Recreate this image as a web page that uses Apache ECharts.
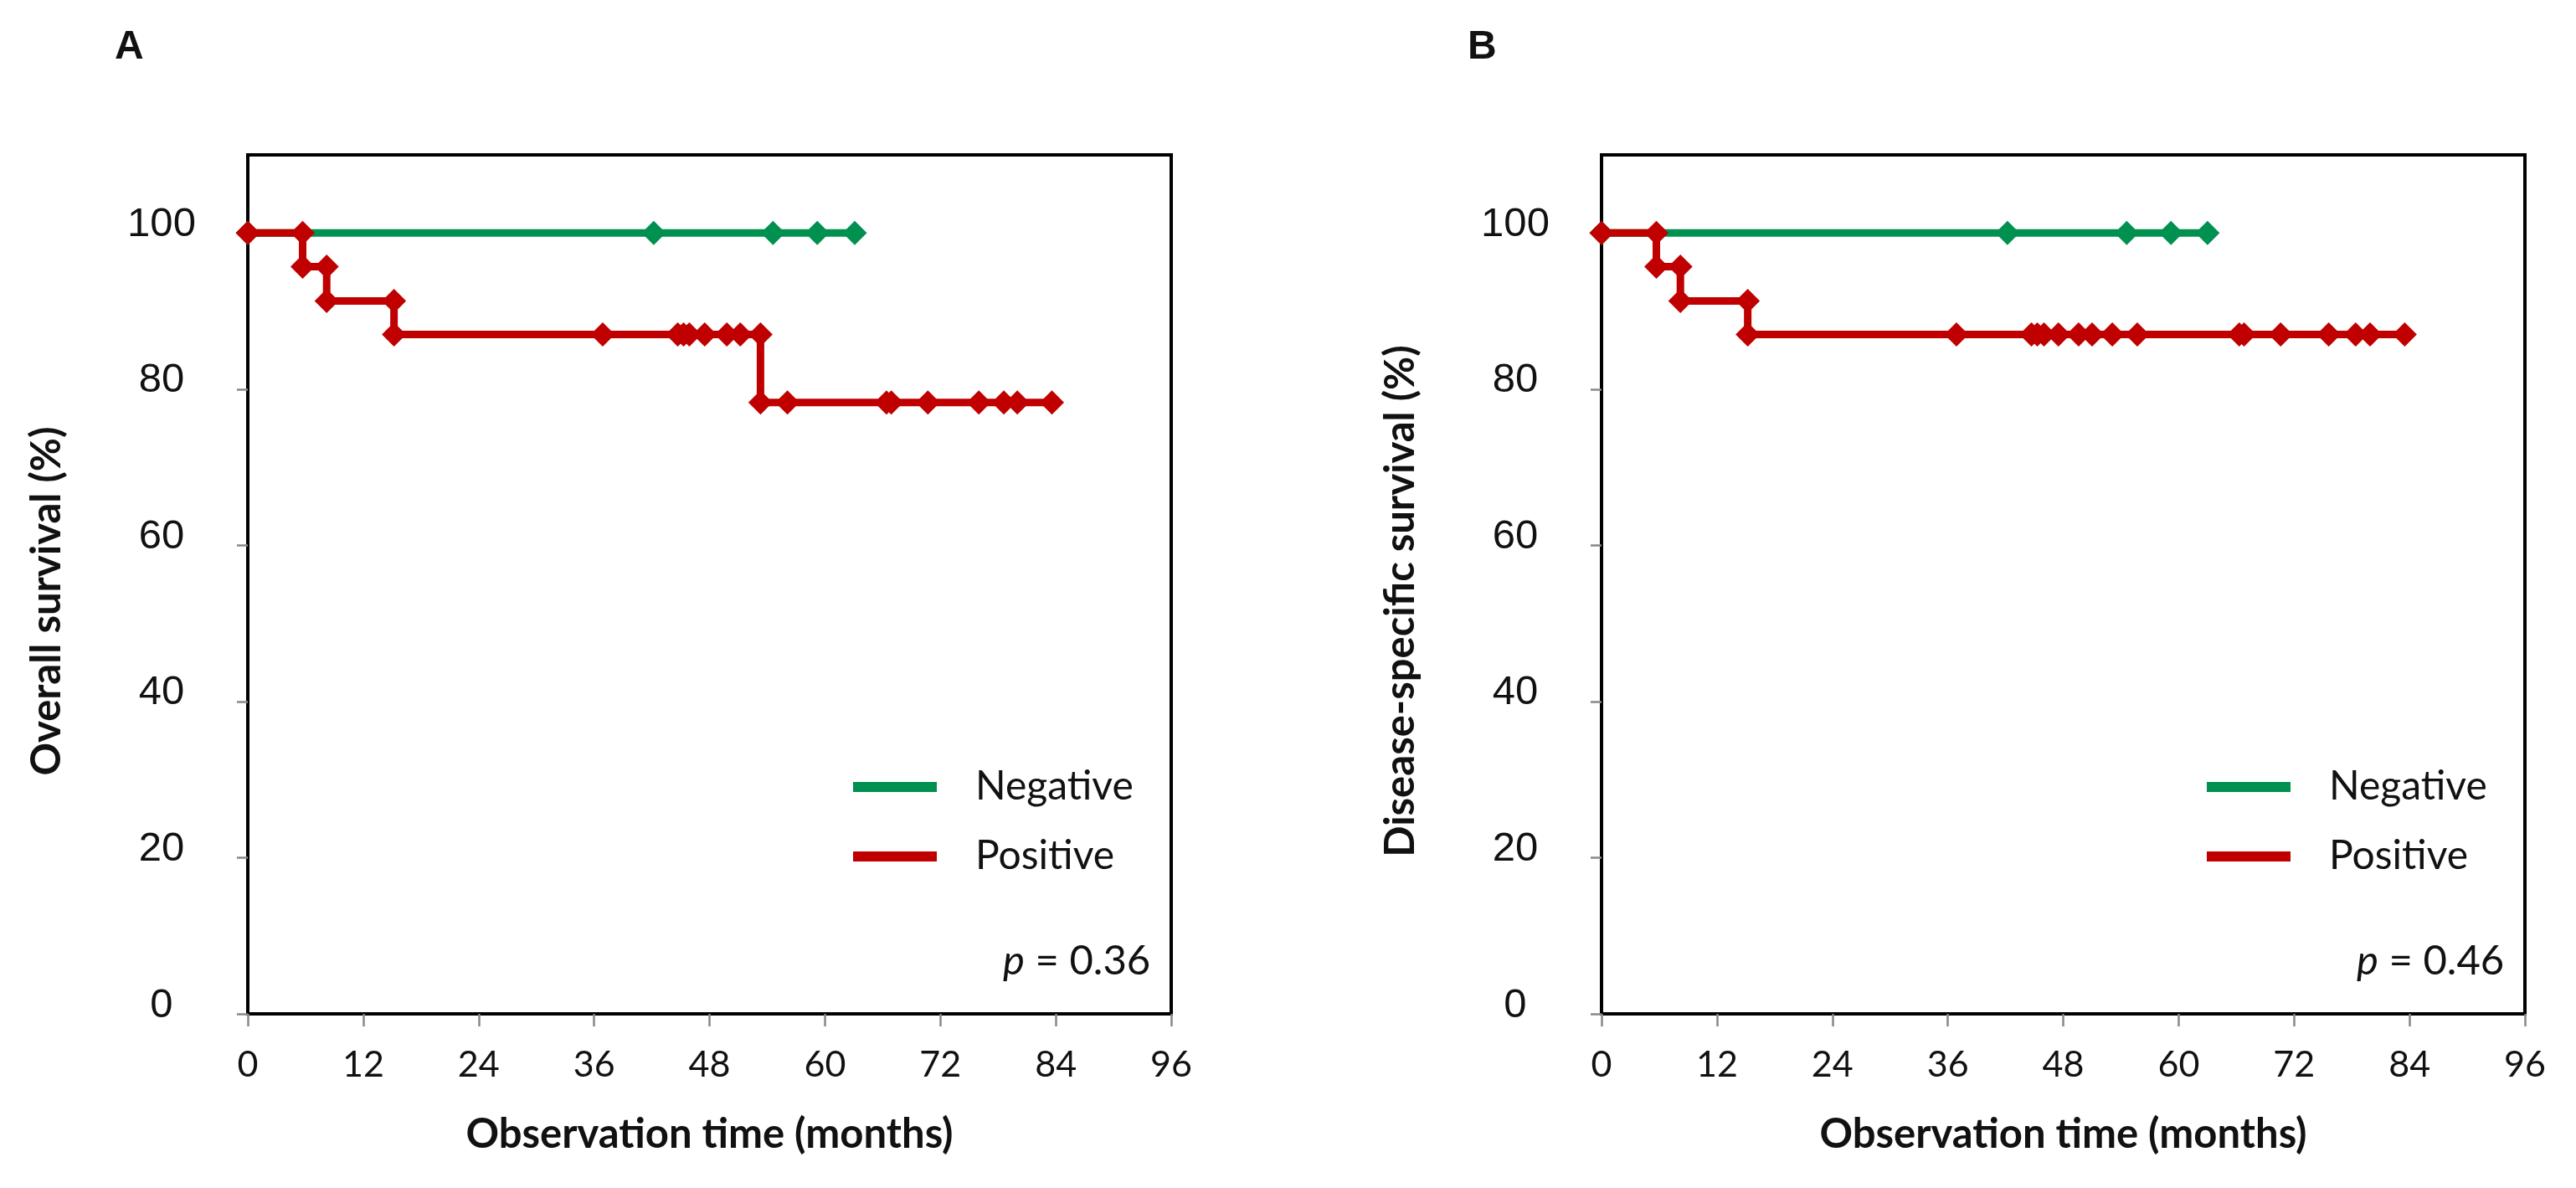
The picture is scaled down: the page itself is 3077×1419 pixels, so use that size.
<!DOCTYPE html>
<html><head><meta charset="utf-8">
<script src="https://cdn.jsdelivr.net/npm/echarts@6/dist/echarts.min.js"></script>
<style>html,body{margin:0;padding:0;background:#fff}#c{width:3077px;height:1419px}</style>
</head><body><div id="c"></div>
<script>
// ---- data ----
const groups = ['Negative', 'Positive'];
const panelLabels = ['A', 'B'];
const yTitles = ['Overall survival (%)', 'Disease-specific survival (%)'];
const xTitle = 'Observation time (months)';
const pValues = ['0.36', '0.46'];
const yTickValues = [0, 20, 40, 60, 80, 100];

// Panel A (overall survival)
const negTimesA = [0, 42.2, 54.6, 59.2, 63.1];
const negSurvA  = [100, 100, 100, 100, 100];
const posTimesA = [0, 5.7, 5.7, 8.2, 8.2, 15.2, 15.2, 36.9, 44.7, 45.3, 45.9, 47.5, 49.8, 51.2, 53.3, 53.3, 56.1, 66.4, 66.9, 70.7, 76.0, 78.6, 80.0, 83.6];
const posSurvA  = [100, 100, 95.7, 95.7, 91.3, 91.3, 87.0, 87.0, 87.0, 87.0, 87.0, 87.0, 87.0, 87.0, 87.0, 78.3, 78.3, 78.3, 78.3, 78.3, 78.3, 78.3, 78.3, 78.3];

// Panel B (disease-specific survival)
const negTimesB = [0, 42.2, 54.6, 59.2, 63.0];
const negSurvB  = [100, 100, 100, 100, 100];
const posTimesB = [0, 5.7, 5.7, 8.2, 8.2, 15.2, 15.2, 36.9, 44.7, 45.3, 46.0, 47.5, 49.6, 51.0, 53.1, 55.7, 66.3, 66.8, 70.6, 75.6, 78.4, 79.9, 83.5];
const posSurvB  = [100, 100, 95.7, 95.7, 91.3, 91.3, 87.0, 87.0, 87.0, 87.0, 87.0, 87.0, 87.0, 87.0, 87.0, 87.0, 87.0, 87.0, 87.0, 87.0, 87.0, 87.0, 87.0];

// ---- chart ----
const GREEN = '#00904F', RED = '#C00000', TXT = '#111';
const zip = (t, s) => t.map((v, i) => [v, s[i]]);
const panels = [
  { left: 296, neg: zip(negTimesA, negSurvA), pos: zip(posTimesA, posSurvA) },
  { left: 1913, neg: zip(negTimesB, negSurvB), pos: zip(posTimesB, posSurvB) }
];
const W = 1103, TOP = 185, H = 1026;

const option = {
  animation: false,
  backgroundColor: '#fff',
  grid: panels.map(p => ({ left: p.left, top: TOP, width: W, height: H, show: true, borderColor: '#000', borderWidth: 4, backgroundColor: 'transparent' })),
  xAxis: panels.map((p, i) => ({
    type: 'value', gridIndex: i, min: 0, max: 96, interval: 12,
    axisLine: { show: true, onZero: false, lineStyle: { color: '#000', width: 4 } },
    axisTick: { show: true, inside: false, length: 15, lineStyle: { color: '#888', width: 2.5 } },
    axisLabel: { show: true, showMinLabel: true, showMaxLabel: true, fontFamily: 'Lato', fontSize: 43, color: TXT, margin: 40 },
    splitLine: { show: false },
    name: xTitle, nameLocation: 'middle', nameGap: 120,
    nameTextStyle: { fontFamily: 'Lato', fontWeight: 'bold', fontSize: 49, color: TXT }
  })),
  yAxis: panels.map((p, i) => ({
    type: 'value', gridIndex: i, min: 0, max: 110, interval: 20,
    axisLine: { show: true, onZero: false, lineStyle: { color: '#000', width: 4 } },
    axisTick: { show: true, inside: false, length: 13, customValues: yTickValues, lineStyle: { color: '#888', width: 2.5 } },
    axisLabel: { show: true, customValues: yTickValues, align: 'center', verticalAlign: 'bottom', lineHeight: 20, margin: 103,
      fontFamily: 'Liberation Sans', fontSize: 49, color: TXT },
    splitLine: { show: false }
  })),
  legend: panels.map(p => ({
    data: groups, left: p.left + 718, top: 908, orient: 'vertical', icon: 'rect',
    itemWidth: 100, itemHeight: 12, itemGap: 29, selectedMode: false,
    textStyle: { fontFamily: 'Lato', fontSize: 48, color: TXT, lineHeight: 54, padding: [0, 0, 0, 41] }
  })),
  title: [
    { text: panelLabels[0], left: 132, top: 28, textStyle: { fontFamily: 'Liberation Sans', fontWeight: 'bold', fontSize: 48, color: TXT } },
    { text: panelLabels[1], left: 1748, top: 28, textStyle: { fontFamily: 'Liberation Sans', fontWeight: 'bold', fontSize: 48, color: TXT } },
    ...panels.map((p, i) => ({
      text: '{i|p} = ' + pValues[i], left: p.left + 897, top: 1119,
      textStyle: { fontFamily: 'Lato', fontWeight: 'normal', fontSize: 49, color: TXT,
        rich: { i: { fontFamily: 'Lato', fontStyle: 'italic', fontSize: 49, color: TXT } } }
    }))
  ],
  graphic: panels.map((p, i) => ({
    type: 'text', x: p.left - 240, y: 718, rotation: Math.PI / 2, silent: true,
    style: { text: yTitles[i], font: 'bold 49px Lato', fill: TXT, align: 'center', verticalAlign: 'middle' }
  })),
  series: panels.flatMap((p, i) => [
    { name: groups[0], type: 'line', xAxisIndex: i, yAxisIndex: i, data: p.neg, symbol: 'diamond', symbolSize: 29,
      showAllSymbol: true, clip: false, color: GREEN, lineStyle: { color: GREEN, width: 9 }, itemStyle: { color: GREEN },
      emphasis: { disabled: true }, z: 2 },
    { name: groups[1], type: 'line', xAxisIndex: i, yAxisIndex: i, data: p.pos, symbol: 'diamond', symbolSize: 29,
      showAllSymbol: true, clip: false, color: RED, lineStyle: { color: RED, width: 9 }, itemStyle: { color: RED },
      emphasis: { disabled: true }, z: 3 }
  ])
};
const chart = echarts.init(document.getElementById('c'), null, { renderer: 'canvas' });
chart.setOption(option);
</script></body></html>
